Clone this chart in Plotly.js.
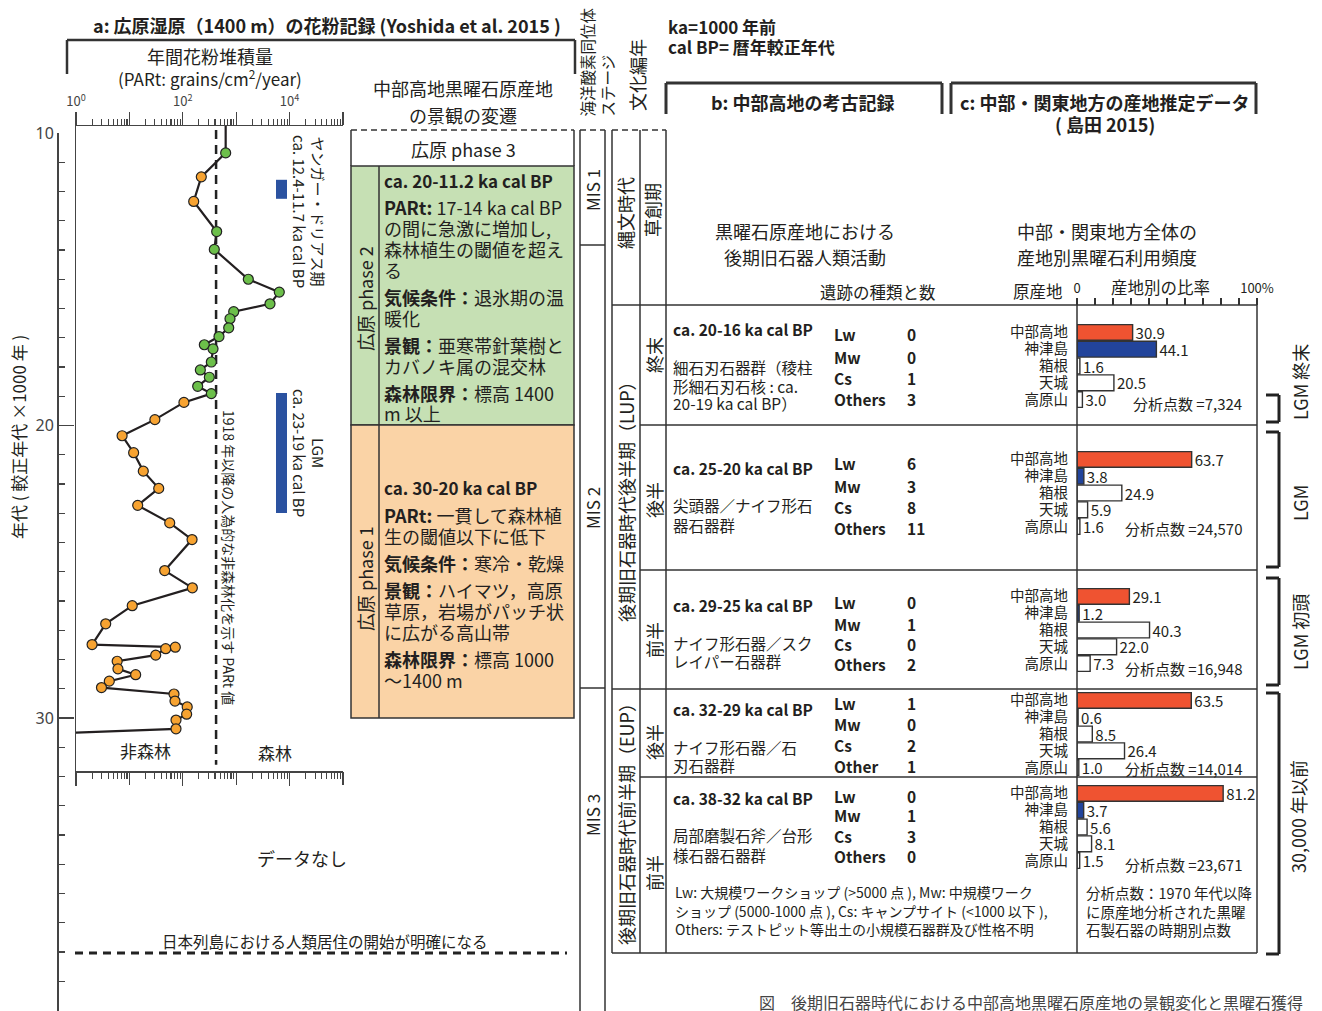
<!DOCTYPE html>
<html><head><meta charset="utf-8">
<script src="https://cdn.plot.ly/plotly-3.0.1.min.js"></script>
<style>html,body{margin:0;padding:0;background:#fff}#chart{width:1322px;height:1011px}</style>
</head><body><div id="chart"></div>
<script>
// ================= DATA =================
// a: pollen accumulation rate (PARt, grains/cm2/year) vs age (ka cal BP)
const pollenAge = [9.7, 10.68, 11.50, 12.34, 13.37, 13.98, 15.00, 15.44, 15.84, 16.11, 16.35, 16.66, 16.96, 17.24, 17.38, 17.83, 18.10, 18.35, 18.66, 18.91, 19.21, 19.80, 20.35, 20.93, 21.56, 22.15, 22.73, 23.33, 23.90, 24.96, 25.55, 26.16, 26.78, 27.49, 27.58, 27.63, 27.85, 28.06, 28.32, 28.52, 28.74, 28.96, 29.18, 29.42, 29.62, 29.87, 30.07, 30.37, 30.5];
const pollenPARt = [635, 635, 222, 160, 431, 389, 1686, 6412, 4295, 898, 765, 724, 476, 253, 368, 342, 213, 314, 190, 342, 105, 30, 7.3, 12, 18.2, 35.4, 14.3, 56.9, 149, 45.8, 151, 11.3, 3.6, 2.0, 72.4, 47.8, 31.1, 5.9, 6.1, 13.1, 4.2, 3.0, 68.4, 71.4, 121, 118, 74.6, 74.6, 0.9];
// g = phase-2 (green) sample, o = cold-period (orange) sample, '' = curve continues beyond frame
const pollenZone = ['', 'g', 'o', 'o', 'g', 'g', 'g', 'g', 'g', 'g', 'g', 'g', 'g', 'g', 'g', 'g', 'g', 'g', 'g', 'g', 'o', 'o', 'o', 'o', 'o', 'o', 'o', 'o', 'o', 'o', 'o', 'o', 'o', 'o', 'o', 'o', 'o', 'o', 'o', 'o', 'o', 'o', 'o', 'o', 'o', 'o', 'o', 'o', ''];
const forestThreshold = 420;          // PARt value separating 非森林 / 森林
const youngerDryas = [11.6, 12.25];   // ka, blue bar as drawn
const lgmPeriod = [18.89, 22.99];     // ka, blue bar as drawn

// c: obsidian source ratios (%)
const sources = ['中部高地', '神津島', '箱根', '天城', '高原山'];
const ratio_20_16 = [30.9, 44.1, 1.6, 20.5, 3.0];
const ratio_25_20 = [63.7, 3.8, 24.9, 5.9, 1.6];
const ratio_29_25 = [29.1, 1.2, 40.3, 22.0, 7.3];
const ratio_32_29 = [63.5, 0.6, 8.5, 26.4, 1.0];
const ratio_38_32 = [81.2, 3.7, 5.6, 8.1, 1.5];
const analysisCounts = ['7,324', '24,570', '16,948', '14,014', '23,671'];

// b: archaeological record
const periodLabels = ['ca. 20-16 ka cal BP', 'ca. 25-20 ka cal BP', 'ca. 29-25 ka cal BP', 'ca. 32-29 ka cal BP', 'ca. 38-32 ka cal BP'];
const industryLines = [['細石刃石器群（稜柱', '形細石刃石核 : ca.', '20-19 ka cal BP）'], ['尖頭器／ナイフ形石', '器石器群'], ['ナイフ形石器／スク', 'レイパー石器群'], ['ナイフ形石器／石', '刃石器群'], ['局部磨製石斧／台形', '様石器石器群']];
const siteTypeLabels = [['Lw', 'Mw', 'Cs', 'Others'], ['Lw', 'Mw', 'Cs', 'Others'], ['Lw', 'Mw', 'Cs', 'Others'], ['Lw', 'Mw', 'Cs', 'Other'], ['Lw', 'Mw', 'Cs', 'Others']];
const siteCounts = [[0, 0, 1, 3], [6, 3, 8, 11], [0, 1, 0, 2], [1, 0, 2, 1], [0, 1, 3, 0]];

// ================= LAYOUT HELPERS =================
const W = 1322, H = 1011;
const X = p => p / W, Y = p => 1 - p / H;
const FONT = 'Noto Sans CJK JP, Noto Sans, sans-serif';
const NARROW = 'Liberation Sans Narrow, Noto Sans CJK JP, sans-serif';
const INK = '#231f20';
const ann = [], shp = [];
function T(x, y, text, o = {}) {
  ann.push({xref: 'paper', yref: 'paper', x: X(x), y: Y(y), text: text, showarrow: false,
    xanchor: o.xa || 'center', yanchor: o.ya || 'middle', textangle: o.rot || 0, align: o.align || 'center',
    borderpad: 0, font: {family: o.fam || FONT, size: o.size || 16, color: o.color || INK}});
}
function L(x0, y0, x1, y1, o = {}) {
  shp.push({type: 'line', xref: 'paper', yref: 'paper', x0: X(x0), y0: Y(y0), x1: X(x1), y1: Y(y1),
    line: {color: o.color || '#333', width: o.w || 1.5, dash: o.dash || 'solid'}, layer: 'above'});
}
function R(x0, y0, x1, y1, fill, o = {}) {
  shp.push({type: 'rect', xref: 'paper', yref: 'paper', x0: X(x0), y0: Y(y0), x1: X(x1), y1: Y(y1),
    fillcolor: fill, line: {color: o.color || '#333', width: o.w === undefined ? 1.5 : o.w}, layer: 'below'});
}

// ---------- panel a ----------
T(327, 25, '<b>a: 広原湿原（1400 m）の花粉記録 (Yoshida et al. 2015 )</b>', {size: 18});
L(67, 40, 575, 40, {w: 2.5}); L(67, 40, 67, 74, {w: 2.5}); L(575, 40, 575, 74, {w: 2.5});
T(210, 56, '年間花粉堆積量', {size: 18});
T(210, 78, '(PARt: grains/cm<sup>2</sup>/year)', {size: 17});
T(18, 437, '年代 ( 較正年代 ×1000 年 )', {rot: -90, size: 17});
T(309, 211, 'ヤンガー・ドリアス期<br>ca. 12.4-11.7 ka cal BP', {rot: 90, size: 15});
T(309, 453, 'LGM<br>ca. 23-19 ka cal BP', {rot: 90, size: 15});
T(229, 557, '1918 年以降の人為的な非森林化を示す PARt 値', {rot: 90, size: 14});
T(145, 750, '非森林', {size: 17});
T(275, 752, '森林', {size: 17});
T(302, 858, 'データなし', {size: 18});
T(325, 941, '日本列島における人類居住の開始が明確になる', {size: 15.5});
L(75, 953, 567, 953, {w: 3, dash: '8px,6px', color: '#222'});
[youngerDryas, lgmPeriod].forEach(r => shp.push({type: 'rect', xref: 'paper', yref: 'y2', x0: X(276), x1: X(287), y0: r[0], y1: r[1], fillcolor: '#2b52a0', line: {width: 0}, layer: 'above'}));

// ---------- landscape phases ----------
T(463, 88, '中部高地黒曜石原産地', {size: 18});
T(463, 115, 'の景観の変遷', {size: 18});
R(351, 166, 574, 425, '#c6e0b4');
R(351, 425, 574, 718, '#fad3a6');
L(351, 130, 574, 130, {dash: '6px,4px'});
L(351, 130, 351, 166); L(574, 130, 574, 166);
L(379, 166, 379, 718);
T(463, 149, '広原 phase 3', {size: 18});
T(365, 298, '広原 phase 2', {rot: -90, size: 18});
T(365, 578, '広原 phase 1', {rot: -90, size: 18});
const phase2Text = [[180, '<b>ca. 20-11.2 ka cal BP</b>'], [207, '<b>PARt:</b> 17-14 ka cal BP'], [228, 'の間に急激に増加し,'], [249, '森林植生の閾値を超え'], [270, 'る'],
  [297, '<b>気候条件：</b>退氷期の温'], [318, '暖化'], [345, '<b>景観：</b>亜寒帯針葉樹と'], [366, 'カバノキ属の混交林'], [393, '<b>森林限界：</b>標高 1400'], [413, 'm 以上']];
const phase1Text = [[488, '<b>ca. 30-20 ka cal BP</b>'], [515, '<b>PARt:</b> 一貫して森林植'], [536, '生の閾値以下に低下'], [563, '<b>気候条件：</b>寒冷・乾燥'],
  [590, '<b>景観：</b>ハイマツ，高原'], [611, '草原，岩場がパッチ状'], [632, 'に広がる高山帯'], [659, '<b>森林限界：</b>標高 1000'], [680, '〜1400 m']];
phase2Text.concat(phase1Text).forEach(([y, t]) => T(383, y, t, {xa: 'left', size: t.indexOf('ca.') >= 0 ? 17 : 18}));

// ---------- MIS & cultural columns ----------
T(596, 118, '海洋酸素同位体<br>ステージ', {rot: -90, size: 15.5, ya: 'bottom', align: 'left'});
T(637, 112, '文化編年', {rot: -90, size: 18, ya: 'bottom'});
L(580, 130, 580, 1011); L(605, 130, 605, 1011); L(580, 130, 605, 130, {dash: '6px,4px'});
L(580, 245, 605, 245); L(580, 688, 605, 688);
T(592, 190, 'MIS 1', {rot: -90, size: 17});
T(592, 508, 'MIS 2', {rot: -90, size: 17});
T(592, 815, 'MIS 3', {rot: -90, size: 17});
L(612, 130, 612, 953); L(640, 130, 640, 953); L(666, 130, 666, 953); L(612, 130, 666, 130, {dash: '6px,4px'});
T(625, 213, '縄文時代', {rot: -90, size: 18});
T(652, 210, '草創期', {rot: -90, size: 18});
T(626, 497, '後期旧石器時代後半期（LUP）', {rot: -90, size: 18});
T(626, 820, '後期旧石器時代前半期（EUP）', {rot: -90, size: 18});
[[355, '終末'], [500, '後半'], [640, '前半'], [742, '後半'], [873, '前半']].forEach(([y, t]) => T(654, y, t, {rot: -90, size: 18}));

// ---------- panels b / c headers ----------
T(667, 26, '<b>ka=1000 年前</b>', {xa: 'left', size: 17, fam: NARROW});
T(667, 47, '<b>cal BP= 暦年較正年代</b>', {xa: 'left', size: 17, fam: NARROW});
L(666, 83, 942, 83, {w: 3}); L(666, 83, 666, 114, {w: 3}); L(942, 83, 942, 114, {w: 3});
L(951, 83, 1256, 83, {w: 3}); L(951, 83, 951, 114, {w: 3}); L(1256, 83, 1256, 114, {w: 3});
T(803, 102, '<b>b: 中部高地の考古記録</b>', {size: 18});
T(1104, 102, '<b>c: 中部・関東地方の産地推定データ</b>', {size: 18});
T(1105, 124, '<b>( 島田 2015)</b>', {size: 18});
T(805, 231, '黒曜石原産地における', {size: 18});
T(805, 257, '後期旧石器人類活動', {size: 18});
T(1107, 231, '中部・関東地方全体の', {size: 18});
T(1107, 257, '産地別黒曜石利用頻度', {size: 18});
T(878, 292, '遺跡の種類と数', {size: 16.5});
T(1064, 291, '原産地', {xa: 'right', size: 16.5});
T(1160, 287, '産地別の比率', {size: 16.5});

// ---------- table grid ----------
L(612, 305, 1257, 305); L(640, 425, 1257, 425); L(640, 570, 1257, 570); L(612, 689, 1257, 689);
L(640, 777, 1257, 777); L(612, 953, 1257, 953); L(1257, 305, 1257, 953); L(1077, 305, 1077, 953);

// ---------- rows ----------
const rowBarTop = [324, 451, 588, 692, 785];
const periodY = [329, 468, 605, 709, 798];
const indY = [[367, 386, 403], [505, 525], [643, 661], [747, 765], [835, 855]];
const siteY = [[334, 357, 378, 399], [463, 486, 507, 528], [602, 624, 644, 664], [703, 724, 745, 766], [796, 815, 836, 856]];
const countY = [404, 528, 668, 768, 864];
periodLabels.forEach((p, i) => {
  T(672, periodY[i], '<b>' + p + '</b>', {xa: 'left', size: 15.5, fam: NARROW});
  industryLines[i].forEach((t, j) => T(672, indY[i][j], t, {xa: 'left', size: 15.5, fam: NARROW}));
  siteTypeLabels[i].forEach((t, j) => {
    T(833, siteY[i][j], '<b>' + t + '</b>', {xa: 'left', size: 15.5, fam: NARROW});
    T(906, siteY[i][j], '<b>' + siteCounts[i][j] + '</b>', {xa: 'left', size: 15.5, fam: NARROW});
  });
  T(1243, countY[i], '分析点数 =' + analysisCounts[i], {xa: 'right', size: 15, fam: NARROW});
});
T(674, 892, 'Lw: 大規模ワークショップ (>5000 点 ), Mw: 中規模ワーク', {xa: 'left', size: 14, fam: NARROW});
T(674, 911, 'ショップ (5000-1000 点 ), Cs: キャンプサイト (<1000 以下 ),', {xa: 'left', size: 14, fam: NARROW});
T(674, 929, 'Others: テストピット等出土の小規模石器群及び性格不明', {xa: 'left', size: 14, fam: NARROW});
T(1085, 892, '分析点数：1970 年代以降', {xa: 'left', size: 14.5, fam: NARROW});
T(1085, 911, 'に原産地分析された黒曜', {xa: 'left', size: 14.5, fam: NARROW});
T(1085, 929, '石製石器の時期別点数', {xa: 'left', size: 14.5, fam: NARROW});

// right brackets
[[395, 422], [432, 567], [578, 685], [693, 954]].forEach(([a, b]) => {
  L(1266, a, 1279, a, {w: 3, color: '#222'}); L(1279, a, 1279, b, {w: 3, color: '#222'}); L(1266, b, 1279, b, {w: 3, color: '#222'});
});
T(1300, 382, 'LGM 終末', {rot: -90, size: 18});
T(1300, 503, 'LGM', {rot: -90, size: 18});
T(1300, 632, 'LGM 初頭', {rot: -90, size: 18});
T(1298, 817, '30,000 年以前', {rot: -90, size: 18});
T(758, 1002, '図　後期旧石器時代における中部高地黒曜石原産地の景観変化と黒曜石獲得', {xa: 'left', size: 16, color: '#444'});

// ================= TRACES =================
const traces = [];
traces.push({type: 'scatter', mode: 'lines', x: [forestThreshold, forestThreshold], y: [9.9, 31.6], xaxis: 'x', yaxis: 'y2',
  line: {color: '#222', width: 2.5, dash: '9px,6px'}, hoverinfo: 'skip'});
traces.push({type: 'scatter', mode: 'lines', x: pollenPARt, y: pollenAge, xaxis: 'x', yaxis: 'y2',
  line: {color: '#231f20', width: 2.2}, hoverinfo: 'skip'});
[['g', '#6cbf4a'], ['o', '#f7a331']].forEach(([z, c]) => {
  const xs = [], ys = [];
  pollenZone.forEach((v, i) => { if (v === z) { xs.push(pollenPARt[i]); ys.push(pollenAge[i]); } });
  traces.push({type: 'scatter', mode: 'markers', x: xs, y: ys, xaxis: 'x', yaxis: 'y2', cliponaxis: false,
    marker: {size: 10, color: c, line: {color: '#222', width: 1.2}}, hoverinfo: 'skip'});
});
// carry the main age axis and the unlabeled-decade tick axis
traces.push({type: 'scatter', mode: 'markers', x: [null], y: [null], xaxis: 'x', yaxis: 'y', hoverinfo: 'skip'});
traces.push({type: 'scatter', mode: 'markers', x: [null], y: [null], xaxis: 'x2', yaxis: 'y2', hoverinfo: 'skip'});

const ratios = [ratio_20_16, ratio_25_20, ratio_29_25, ratio_32_29, ratio_38_32];
const barColors = ['#ef5331', '#22449b', '#ffffff', '#ffffff', '#ffffff'];
ratios.forEach((r, i) => traces.push({type: 'bar', orientation: 'h', x: r, y: sources, xaxis: 'x3', yaxis: 'y' + (3 + i),
  marker: {color: barColors, line: {color: '#333', width: 1.4}}, text: r.map(v => v.toFixed(1)), textposition: 'outside',
  textfont: {family: NARROW, size: 15, color: INK}, cliponaxis: false, constraintext: 'none', hoverinfo: 'skip'}));

// ================= AXES =================
const minorLog = [];
for (let k = 0; k < 5; k++) for (let m = 2; m <= 9; m++) minorLog.push(m * Math.pow(10, k));
const logDomain = [X(76), X(343)];
const layout = {
  width: W, height: H, margin: {l: 0, r: 0, t: 0, b: 0}, showlegend: false,
  paper_bgcolor: '#fff', plot_bgcolor: 'rgba(0,0,0,0)', bargap: 0.06, hovermode: false,
  font: {family: FONT, color: INK},
  xaxis: {type: 'log', range: [0, 5], domain: logDomain, anchor: 'y2', side: 'top',
    showline: true, linecolor: '#444', linewidth: 1.5, mirror: 'ticks', ticks: 'outside', ticklen: 13, tickwidth: 1.3, tickcolor: '#444',
    tickmode: 'array', tickvals: [1, 100, 1e4], ticktext: ['10<sup>0</sup>', '10<sup>2</sup>', '10<sup>4</sup>'],
    tickfont: {size: 13, color: '#444'}, showgrid: false, zeroline: false,
    minor: {tickmode: 'array', tickvals: minorLog, ticks: 'outside', ticklen: 6, tickwidth: 1.1, tickcolor: '#444', showgrid: false}},
  xaxis2: {type: 'log', range: [0, 5], domain: logDomain, anchor: 'y2', overlaying: 'x', side: 'top', mirror: 'ticks',
    showline: false, ticks: 'outside', ticklen: 13, tickwidth: 1.3, tickcolor: '#444',
    tickmode: 'array', tickvals: [10, 1000, 1e5], showticklabels: false, showgrid: false, zeroline: false},
  yaxis2: {domain: [Y(771), Y(126)], range: [31.812, 9.761], anchor: 'x', showline: true, linecolor: '#444', linewidth: 1.5,
    ticks: '', showticklabels: false, showgrid: false, zeroline: false},
  yaxis: {domain: [0, Y(133)], range: [40.017, 10], anchor: 'free', position: X(57), showline: true, linecolor: '#444', linewidth: 1.5,
    tickmode: 'linear', tick0: 10, dtick: 10, ticks: 'inside', ticklen: 15, tickwidth: 1.3, tickcolor: '#444',
    tickfont: {size: 16, color: '#444', family: 'Noto Sans, sans-serif'}, showgrid: false, zeroline: false,
    minor: {tickmode: 'linear', tick0: 10, dtick: 1, ticks: 'inside', ticklen: 6, tickwidth: 1.1, tickcolor: '#444', showgrid: false}},
  xaxis3: {domain: [X(1077), X(1257)], range: [0, 100], anchor: 'free', position: Y(305), side: 'top', showline: false,
    ticks: 'outside', ticklen: 7, tickwidth: 1.2, tickcolor: '#333', tickmode: 'array',
    tickvals: [0, 100], ticktext: ['0', '100%'], tickfont: {size: 13, family: NARROW}, showgrid: false, zeroline: false,
    minor: {tickmode: 'array', tickvals: [10, 20, 30, 40, 50, 60, 70, 80, 90], ticks: 'outside', ticklen: 7, tickwidth: 1.2, tickcolor: '#333', showgrid: false}},
  shapes: shp, annotations: ann
};
rowBarTop.forEach((t, i) => {
  layout['yaxis' + (3 + i)] = {domain: [Y(t + 84), Y(t)], anchor: 'x3', type: 'category', categoryorder: 'array', categoryarray: sources,
    tickmode: 'array', tickvals: sources, ticktext: sources,
    autorange: 'reversed', showline: false, ticks: '', ticklabelstandoff: 8, tickfont: {size: 14.5, family: FONT}, showgrid: false, zeroline: false};
});
Plotly.newPlot('chart', traces, layout, {staticPlot: true, displayModeBar: false});
</script></body></html>
